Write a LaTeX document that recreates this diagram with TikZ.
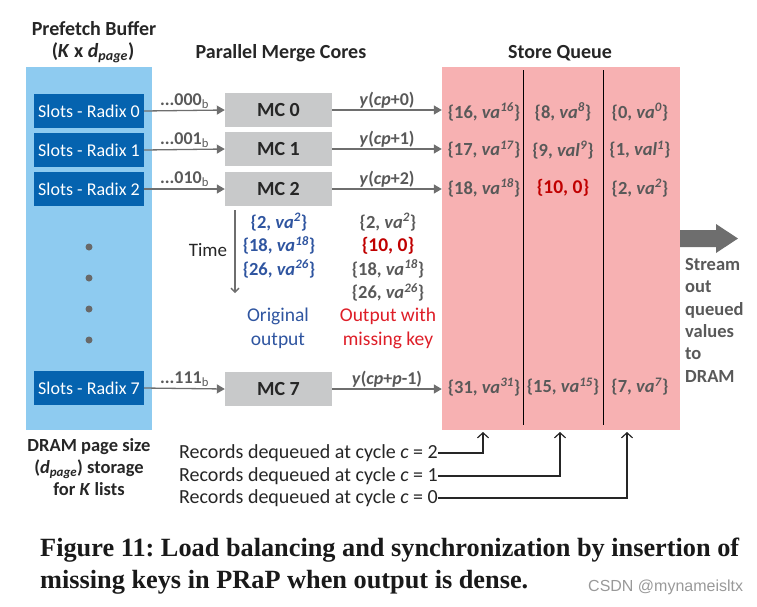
\documentclass[tikz,border=0pt]{standalone}
\usepackage{fontspec}
\setmainfont{Carlito}
\newfontfamily\capfont{Liberation Serif}
\newfontfamily\wmfont{Liberation Sans}
\usetikzlibrary{arrows.meta}
\definecolor{panelblue}{RGB}{142,203,240}
\definecolor{slotblue}{RGB}{5,99,175}
\definecolor{mcgray}{RGB}{200,201,202}
\definecolor{sqpink}{RGB}{247,177,178}
\definecolor{tgray}{RGB}{89,89,89}
\definecolor{agray}{RGB}{110,110,110}
\definecolor{tblue}{RGB}{47,85,160}
\definecolor{tred}{RGB}{192,0,0}
\definecolor{lred}{RGB}{222,30,40}
\definecolor{dotgray}{RGB}{105,105,105}
\newcommand\myss[1]{\textsuperscript{\textit{#1}}}
\newcommand\fs[1]{\fontsize{#1}{#1}\selectfont}
\frenchspacing
\begin{document}
\begin{tikzpicture}[x=1pt,y=-1pt,
  panel/.style={fill=panelblue, inner sep=0pt, minimum width=126pt, minimum height=363pt},
  slotbox/.style={fill=slotblue, text=white, font=\fs{18}, inner sep=0pt, minimum width=110pt, minimum height=34pt},
  mcbox/.style={fill=mcgray, text=black!85, font=\fs{20}\bfseries, inner sep=0pt, minimum width=107pt, minimum height=34pt},
  sqbox/.style={fill=sqpink, inner sep=0pt, minimum width=238pt, minimum height=363pt},
  garr/.style={draw=agray, line width=1.3pt, -{Triangle[length=8pt,width=9pt]}},
  lab/.style={text=tgray, font=\fs{18}\bfseries, inner sep=1.5pt},
  entry/.style={text=tgray, font=\fs{18.5}\bfseries, inner sep=0pt},
  title/.style={text=black!85, font=\fs{20}\bfseries, inner sep=0pt, align=center},
  plain/.style={text=black!85, font=\fs{19}, inner sep=0pt},
  recarr/.style={draw=black!85, line width=1.2pt, -{Straight Barb[length=5pt,width=11pt]}},
  divider/.style={draw=black, line width=0.8pt}]
\useasboundingbox (0,0) rectangle (757,606);
% titles
\node[title] (t1) at (94,29) {Prefetch Buffer};
\node[title] (t2) at (93,53) {(\textit{K} x \textit{d}\textsubscript{\textit{page}})};
\node[title] (t3) at (281,53) {Parallel Merge Cores};
\node[title] (t4) at (560,53) {Store Queue};
% prefetch buffer
\node[panel] (pb) at (89,248.5) {};
\node[slotbox] (s0) at (89,111) {Slots - Radix 0};
\node[slotbox] (s1) at (89,150) {Slots - Radix 1};
\node[slotbox] (s2) at (89,189) {Slots - Radix 2};
\node[slotbox] (s7) at (89,388) {Slots - Radix 7};
\foreach \yy in {247,278,309,340} \fill[dotgray] (89,\yy) circle (3.5pt);
% merge cores
\node[mcbox] (m0) at (278.5,110) {MC 0};
\node[mcbox] (m1) at (278.5,149) {MC 1};
\node[mcbox] (m2) at (278.5,189) {MC 2};
\node[mcbox] (m7) at (278.5,389) {MC 7};
% store queue
\node[sqbox] (sq) at (561,248.5) {};
\draw[divider] (523,70) -- (523,425);
\draw[divider] (603,70) -- (603,425);
% slot to MC arrows
\draw[garr] (s0.east) -- node[above,lab] {...000\textsubscript{\mdseries b}} (m0.west);
\draw[garr] (s1.east) -- node[above,lab] {...001\textsubscript{\mdseries b}} (m1.west);
\draw[garr] (s2.east) -- node[above,lab] {...010\textsubscript{\mdseries b}} (m2.west);
\draw[garr] (s7.east) -- node[above,lab] {...111\textsubscript{\mdseries b}} (m7.west);
% MC to queue
\draw[garr] (m0.east) -- node[above,lab] {\textit{y}(\textit{cp}+0)} (m0.east -| sq.west);
\draw[garr] (m1.east) -- node[above,lab] {\textit{y}(\textit{cp}+1)} (m1.east -| sq.west);
\draw[garr] (m2.east) -- node[above,lab] {\textit{y}(\textit{cp}+2)} (m2.east -| sq.west);
\draw[garr] (m7.east) -- node[above,lab] {\textit{y}(\textit{cp}+\textit{p}-1)} (m7.east -| sq.west);
% queue entries
\node[entry] (e00) at (484,112) {\{16, \textit{va}\myss{16}\}};
\node[entry] (e01) at (563,112) {\{8, \textit{va}\myss{8}\}};
\node[entry] (e02) at (640,112) {\{0, \textit{va}\myss{0}\}};
\node[entry] (e10) at (484,150) {\{17, \textit{va}\myss{17}\}};
\node[entry] (e11) at (563,150) {\{9, \textit{val}\myss{9}\}};
\node[entry] (e12) at (640,150) {\{1, \textit{val}\myss{1}\}};
\node[entry] (e20) at (484,188) {\{18, \textit{va}\myss{18}\}};
\node[entry,text=tred,font=\fs{19.5}\bfseries] (e21) at (563,188) {\{10, 0\}};
\node[entry] (e22) at (640,188) {\{2, \textit{va}\myss{2}\}};
\node[entry] (e70) at (484,387) {\{31, \textit{va}\myss{31}\}};
\node[entry] (e71) at (563,387) {\{15, \textit{va}\myss{15}\}};
\node[entry] (e72) at (640,387) {\{7, \textit{va}\myss{7}\}};
% time column
\node[plain] (time) at (208,250) {Time};
\coordinate (ta) at (235,210);
\coordinate (tb) at (235,293);
\draw[draw=agray, line width=1.3pt, -{Straight Barb[length=4pt,width=8pt]}] (ta) -- (tb);
\node[entry,text=tblue] (b0) at (279,222) {\{2, \textit{va}\myss{2}\}};
\node[entry,text=tblue] (b1) at (279,245.5) {\{18, \textit{va}\myss{18}\}};
\node[entry,text=tblue] (b2) at (279,269) {\{26, \textit{va}\myss{26}\}};
\node[plain,text=tblue,align=center,font=\fontsize{19.5}{23.5}\selectfont] (orig) at (278,328.5) {Original\\output};
\node[entry] (g0) at (388,222) {\{2, \textit{va}\myss{2}\}};
\node[entry,text=tred,font=\fs{19.5}\bfseries] (g1) at (388,245.5) {\{10, 0\}};
\node[entry] (g2) at (388,269) {\{18, \textit{va}\myss{18}\}};
\node[entry] (g3) at (388,292.5) {\{26, \textit{va}\myss{26}\}};
\node[plain,text=lred,align=center,font=\fontsize{19.5}{23.5}\selectfont] (miss) at (388,328.5) {Output with\\missing key};
% big arrow
\fill[agray] (680,230) -- (716,230) -- (716,224) -- (738,238.5) -- (716,253) -- (716,247) -- (680,247) -- cycle;
\node[text=tgray, font=\fontsize{18.5}{22.4}\selectfont\bfseries, align=left, anchor=north west, inner sep=0pt] (stream) at (685,258) {Stream\\out\\queued\\values\\to\\DRAM};
% DRAM page size
\node[title, font=\fontsize{18.5}{22}\selectfont\bfseries] (dram) at (89,467) {DRAM page size\\(\textit{d}\textsubscript{\textit{page}}) storage\\for \textit{K} lists};
% records
\node[plain,anchor=east,font=\fs{20}] (r2) at (438,453) {Records dequeued at cycle \textit{c} = 2};
\node[plain,anchor=east,font=\fs{20}] (r1) at (438,476) {Records dequeued at cycle \textit{c} = 1};
\node[plain,anchor=east,font=\fs{20}] (r0) at (438,498) {Records dequeued at cycle \textit{c} = 0};
\coordinate (q2) at (483,432);
\coordinate (q1) at (560,432);
\coordinate (q0) at (627,432);
\draw[recarr] (r2.east) -| (q2);
\draw[recarr] (r1.east) -| (q1);
\draw[recarr] (r0.east) -| (q0);
% caption
\node[anchor=base west, inner sep=0pt, font=\capfont\bfseries\fs{26.3}, text=black!90] (cap1) at (40,556) {Figure 11: Load balancing and synchronization by insertion of};
\node[anchor=base west, inner sep=0pt, font=\capfont\bfseries\fs{26.3}, text=black!90] (cap2) at (40,588) {missing keys in PRaP when output is dense.};
\node[anchor=base west, inner sep=0pt, font=\wmfont\fs{16}, text=black!40] (wm) at (588,591) {CSDN @mynameisltx};
\end{tikzpicture}
\end{document}
